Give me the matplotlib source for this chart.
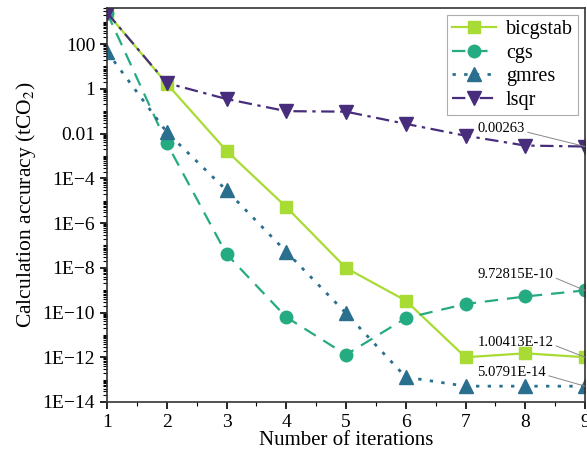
import math
import matplotlib
matplotlib.use("Agg")
import matplotlib.pyplot as plt
from matplotlib.ticker import LogLocator, FuncFormatter, MultipleLocator

iterations = [1, 2, 3, 4, 5, 6, 7, 8, 9]
bicgstab = [2500, 1.7, 1.7e-3, 5.2e-6, 9.8e-9, 3.4e-10, 1.0e-12, 1.5e-12, 1.00413e-12]
cgs = [2500, 3.7e-3, 4.1e-8, 6.2e-11, 1.3e-12, 5.6e-11, 2.4e-10, 5.2e-10, 9.72815e-10]
gmres = [45, 1.15e-2, 2.9e-5, 5.2e-8, 9.3e-11, 1.3e-13, 5.1e-14, 5.1e-14, 5.0791e-14]
lsqr = [2500, 1.8, 0.35, 0.1, 0.095, 0.027, 0.008, 0.0029, 0.00263]

labels = ["bicgstab", "cgs", "gmres", "lsqr"]
annot_text = ["0.00263", "9.72815E-10", "1.00413E-12", "5.0791E-14"]
annot_val = [lsqr[-1], cgs[-1], bicgstab[-1], gmres[-1]]
annot_pos = [0.016, 5.0e-9, 4.7e-12, 2.1e-13]

plt.rcParams["font.family"] = ["Liberation Serif", "DejaVu Serif"]
plt.rcParams["mathtext.fontset"] = "stix"

fig = plt.figure(figsize=(5.87, 4.55), dpi=100)
ax = fig.add_axes([0.1823, 0.1165, 0.8143, 0.866])

ax.plot(iterations, bicgstab, color="#a8db34", ls="-", lw=1.6, marker="s", ms=9,
        label=labels[0])
ax.plot(iterations, cgs, color="#25ab82", ls=(0, (6, 4)), lw=1.6, marker="o", ms=9,
        label=labels[1])
ax.plot(iterations, gmres, color="#2a6f8e", ls=(0, (1.2, 3)), lw=2.0, marker="^", ms=10,
        label=labels[2])
ax.plot(iterations, lsqr, color="#472d7b", ls=(0, (6, 2.5, 1.5, 2.5)), lw=1.6, marker="v", ms=10,
        label=labels[3])

ax.set_yscale("log")
ax.set_xlim(1, 9)
ax.set_ylim(1e-14, 4100)
ax.xaxis.set_major_locator(MultipleLocator(1))
ax.xaxis.set_minor_locator(MultipleLocator(0.5))
ax.yaxis.set_major_locator(LogLocator(base=100, numticks=20))
ax.yaxis.set_minor_locator(LogLocator(base=10, subs=[1, 2, 3, 4, 5, 6, 7, 8, 9], numticks=40))


def fmt(v, pos):
    e = int(round(math.log10(v)))
    if e == 2:
        return "100"
    if e == 0:
        return "1"
    if e == -2:
        return "0.01"
    return "1E\u2212%d" % (-e)


ax.yaxis.set_major_formatter(FuncFormatter(fmt))
ax.yaxis.set_minor_formatter(FuncFormatter(lambda v, p: ""))
ax.tick_params(axis="both", which="major", labelsize=14, direction="out", length=5, width=1.2)
ax.tick_params(axis="both", which="minor", direction="out", length=3, width=0.8)
for s in ax.spines.values():
    s.set_linewidth(1.2)
    s.set_color("#333333")

ax.set_xlabel("Number of iterations", fontsize=15, labelpad=0)
ax.set_ylabel("Calculation accuracy (tCO$_2$)", fontsize=15.5, labelpad=3)

for txt, val, ypos in zip(annot_text, annot_val, annot_pos):
    ax.annotate(txt, xy=(9, val), xytext=(7.2, ypos), fontsize=10.5, va="center",
                arrowprops=dict(arrowstyle="-", color="#888888", lw=0.7, relpos=(1, 0.3),
                                shrinkA=0, shrinkB=0))

leg = ax.legend(loc="upper right", fontsize=14.5, handlelength=2.2, fancybox=False,
                borderaxespad=0.35, labelspacing=0.22, borderpad=0.25, handletextpad=0.5)
leg.get_frame().set_edgecolor("#999999")
leg.get_frame().set_linewidth(0.8)

fig.savefig("out.png", dpi=100)
